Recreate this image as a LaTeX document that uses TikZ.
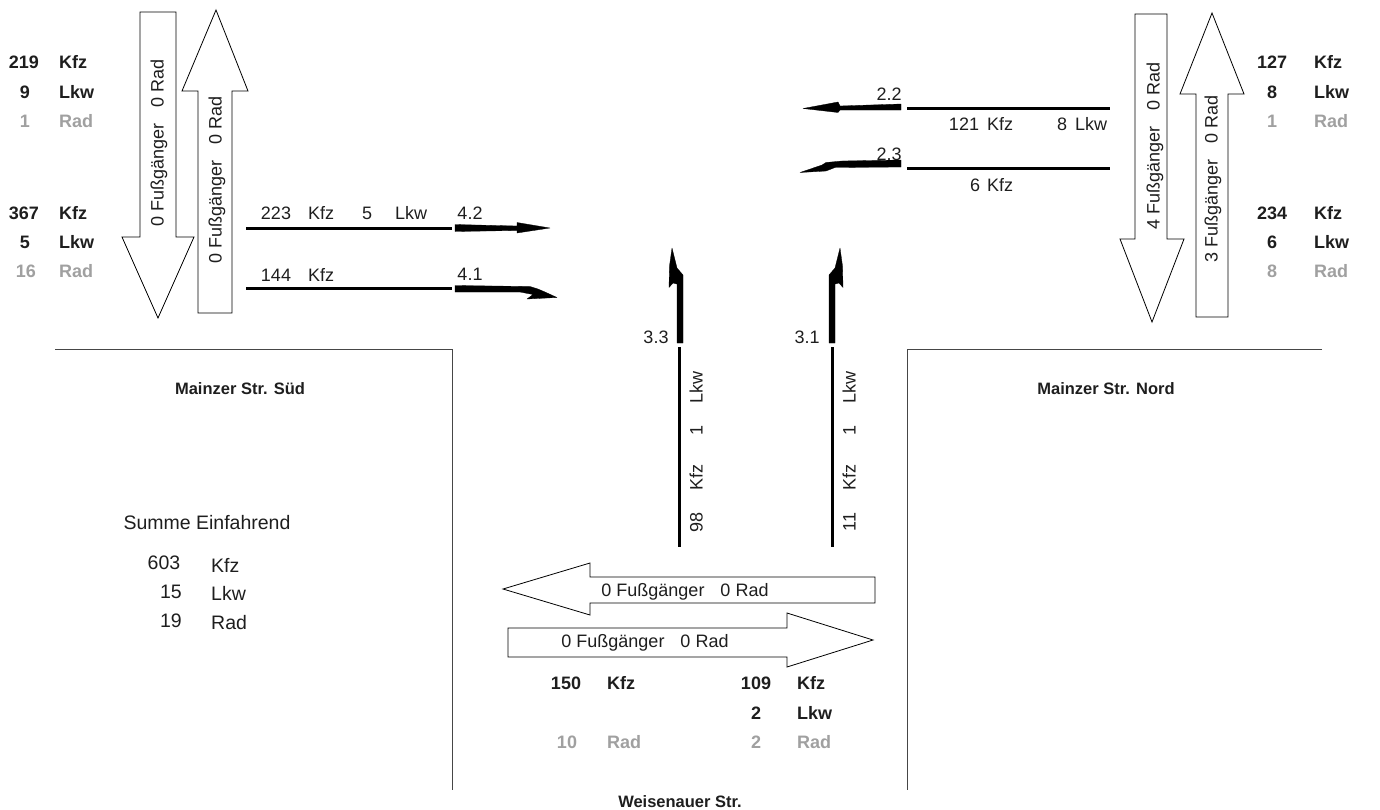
\documentclass[tikz,border=0pt]{standalone}
\usepackage{fontspec}
\setmainfont{Liberation Sans}
\definecolor{txtc}{RGB}{30,30,30}
\definecolor{radc}{RGB}{160,160,160}
\definecolor{roadc}{RGB}{70,70,70}
\begin{document}
\begin{tikzpicture}[x=1pt,y=-1pt,
  txt/.style={font=\fontsize{18}{20}\selectfont, inner sep=0pt, text height=13pt, text depth=0pt, text=txtc},
  sumtxt/.style={font=\fontsize{19.5}{21}\selectfont, inner sep=0pt, text height=14pt, text depth=0pt, text=txtc},
  bld/.style={font=\fontsize{18}{20}\selectfont\bfseries, inner sep=0pt, text height=13pt, text depth=0pt, text=txtc},
  rad/.style={bld, text=radc},
  street/.style={font=\fontsize{16.5}{18}\selectfont\bfseries, inner sep=0pt, text height=12pt, text depth=0pt, text=txtc},
  hollow/.style={draw=black, line width=0.8pt, fill=white, line join=miter},
  road/.style={draw=roadc, line width=1pt},
  stream/.style={draw=black, line width=3pt},
  turn/.style={fill=black, draw=black, line width=0.3pt, line join=round}
]
\useasboundingbox (0,0) rectangle (1380,809);

% road edges
\draw[road] (55,349) -- (452,349) -- (452,790);
\draw[road] (1322,349) -- (907,349) -- (907,790);

% hollow pedestrian arrows
\path[hollow] (140,12) -- (176,12) -- (176,237) -- (194,237) -- (158,318) -- (122,237) -- (140,237) -- cycle;
\path[hollow] (216,10) -- (248,91) -- (232,91) -- (232,313) -- (198,313) -- (198,91) -- (182,91) -- cycle;
\path[hollow] (1135,14) -- (1167,14) -- (1167,239) -- (1184,239) -- (1152,322) -- (1120,239) -- (1135,239) -- cycle;
\path[hollow] (1212,13) -- (1244,94) -- (1228,94) -- (1228,317) -- (1196,317) -- (1196,94) -- (1180,94) -- cycle;
\path[hollow] (503,589) -- (590,563) -- (590,577) -- (875,577) -- (875,603) -- (590,603) -- (590,615) -- cycle;
\path[hollow] (873,640) -- (787,613) -- (787,628) -- (508,628) -- (508,657) -- (787,657) -- (787,667) -- cycle;

\node[txt, rotate=90] (pTLd) at (157,143) {0 Fußgänger\hspace{16pt}0 Rad};
\node[txt, rotate=90] (pTLu) at (215,180) {0 Fußgänger\hspace{16pt}0 Rad};
\node[txt, rotate=90] (pTRd) at (1153,146) {4 Fußgänger\hspace{16pt}0 Rad};
\node[txt, rotate=90] (pTRu) at (1211,179) {3 Fußgänger\hspace{16pt}0 Rad};
\node[txt] (pBl) at (685,590) {0 Fußgänger\hspace{16pt}0 Rad};
\node[txt] (pBr) at (645,641) {0 Fußgänger\hspace{16pt}0 Rad};

% left streams
\draw[stream] (246,228) -- (452,228);
\draw[stream] (246,288) -- (452,288);
\node[txt] (a223) at (276,213) {223};
\node[txt, anchor=west] (a223k) at (308,213) {Kfz};
\node[txt] (a5) at (367,213) {5};
\node[txt, anchor=west] (a5l) at (395,213) {Lkw};
\node[txt] (a144) at (276,275) {144};
\node[txt, anchor=west] (a144k) at (308,275) {Kfz};
\node[txt] (l42) at (470,213) {4.2};
\node[txt] (l41) at (470,274) {4.1};
\path[turn] (455,224.5) -- (517,226) -- (517,222.5) -- (550,228) -- (517,233) -- (517,230.5) -- (455,231.5) -- cycle;
\path[turn] (455,285.5) -- (530,286.5) -- (538,289) -- (545,292) -- (557,297.5) -- (527,299) -- (533,294.5) -- (520,292) -- (455,292) -- cycle;

% right streams
\draw[stream] (907,108) -- (1110,108);
\draw[stream] (907,168) -- (1110,168);
\node[txt] (b121) at (964,124) {121};
\node[txt, anchor=west] (b121k) at (987,124) {Kfz};
\node[txt] (b8) at (1062,124) {8};
\node[txt, anchor=west] (b8l) at (1075,124) {Lkw};
\node[txt] (b6) at (975,185) {6};
\node[txt, anchor=west] (b6k) at (987,185) {Kfz};
\node[txt] (l22) at (889,94) {2.2};
\node[txt] (l23) at (889,154) {2.3};
\path[turn] (901,104) -- (840,106) -- (838,102) -- (803,108.5) -- (838,112.5) -- (840,110) -- (901,110) -- cycle;
\path[turn] (901,160) -- (842,161) -- (826,162.5) -- (822,165) -- (800,172.5) -- (826,171) -- (835,167.5) -- (901,167) -- cycle;

% bottom streams
\draw[stream] (679,347) -- (679,547);
\draw[stream] (832,347) -- (832,547);
\node[txt, rotate=90] (c98) at (696,522) {98};
\node[txt, rotate=90] (c98k) at (696,477) {Kfz};
\node[txt, rotate=90] (c98a) at (696,430) {1};
\node[txt, rotate=90] (c98l) at (696,387) {Lkw};
\node[txt, rotate=90] (c11) at (849,522) {11};
\node[txt, rotate=90] (c11k) at (849,477) {Kfz};
\node[txt, rotate=90] (c11a) at (849,430) {1};
\node[txt, rotate=90] (c11l) at (849,387) {Lkw};
\node[txt] (l33) at (656,337) {3.3};
\node[txt] (l31) at (807,337) {3.1};
\path[turn] (677,343) -- (677,284) -- (673,283) -- (669,287.5) -- (669.5,266) -- (672,248) -- (675.5,262) -- (677,268) -- (683,275) -- (683,343) -- cycle;
\begin{scope}[xshift=1512pt, xscale=-1]
\path[turn] (677,343) -- (677,284) -- (673,283) -- (669,287.5) -- (669.5,266) -- (672,248) -- (675.5,262) -- (677,268) -- (683,275) -- (683,343) -- cycle;
\end{scope}

% left counts
\node[bld] (n219) at (24,62) {219};
\node[bld, anchor=west] (n219k) at (59,62) {Kfz};
\node[bld] (n9) at (25,92) {9};
\node[bld, anchor=west] (n9l) at (59,92) {Lkw};
\node[rad] (n1) at (25,121) {1};
\node[rad, anchor=west] (n1r) at (59,121) {Rad};
\node[bld] (n367) at (24,213) {367};
\node[bld, anchor=west] (n367k) at (59,213) {Kfz};
\node[bld] (n5) at (25,242) {5};
\node[bld, anchor=west] (n5l) at (59,242) {Lkw};
\node[rad] (n16) at (26,271) {16};
\node[rad, anchor=west] (n16r) at (59,271) {Rad};

% right counts
\node[bld] (m127) at (1272,62) {127};
\node[bld, anchor=west] (m127k) at (1314,62) {Kfz};
\node[bld] (m8) at (1272,92) {8};
\node[bld, anchor=west] (m8l) at (1314,92) {Lkw};
\node[rad] (m1) at (1272,121) {1};
\node[rad, anchor=west] (m1r) at (1314,121) {Rad};
\node[bld] (m234) at (1272,213) {234};
\node[bld, anchor=west] (m234k) at (1314,213) {Kfz};
\node[bld] (m6) at (1272,242) {6};
\node[bld, anchor=west] (m6l) at (1314,242) {Lkw};
\node[rad] (m8r) at (1272,271) {8};
\node[rad, anchor=west] (m8rr) at (1314,271) {Rad};

% bottom counts
\node[bld] (k150) at (566,683) {150};
\node[bld, anchor=west] (k150k) at (607,683) {Kfz};
\node[rad] (k10) at (567,742) {10};
\node[rad, anchor=west] (k10r) at (607,742) {Rad};
\node[bld] (k109) at (756,683) {109};
\node[bld, anchor=west] (k109k) at (797,683) {Kfz};
\node[bld] (k2) at (756,713) {2};
\node[bld, anchor=west] (k2l) at (797,713) {Lkw};
\node[rad] (k2r) at (756,742) {2};
\node[rad, anchor=west] (k2rr) at (797,742) {Rad};

% street names
\node[street] (sSud) at (240,388) {Mainzer Str. Süd};
\node[street] (sNord) at (1106,388) {Mainzer Str. Nord};
\node[street] (sWeis) at (680,801) {Weisenauer Str.};

% summary
\node[sumtxt] (sum) at (207,522) {Summe Einfahrend};
\node[sumtxt] (s603) at (164,562) {603};
\node[sumtxt, anchor=west] (s603k) at (211,565) {Kfz};
\node[sumtxt] (s15) at (171,591) {15};
\node[sumtxt, anchor=west] (s15l) at (211,593) {Lkw};
\node[sumtxt] (s19) at (171,620) {19};
\node[sumtxt, anchor=west] (s19r) at (211,622) {Rad};
\end{tikzpicture}
\end{document}
